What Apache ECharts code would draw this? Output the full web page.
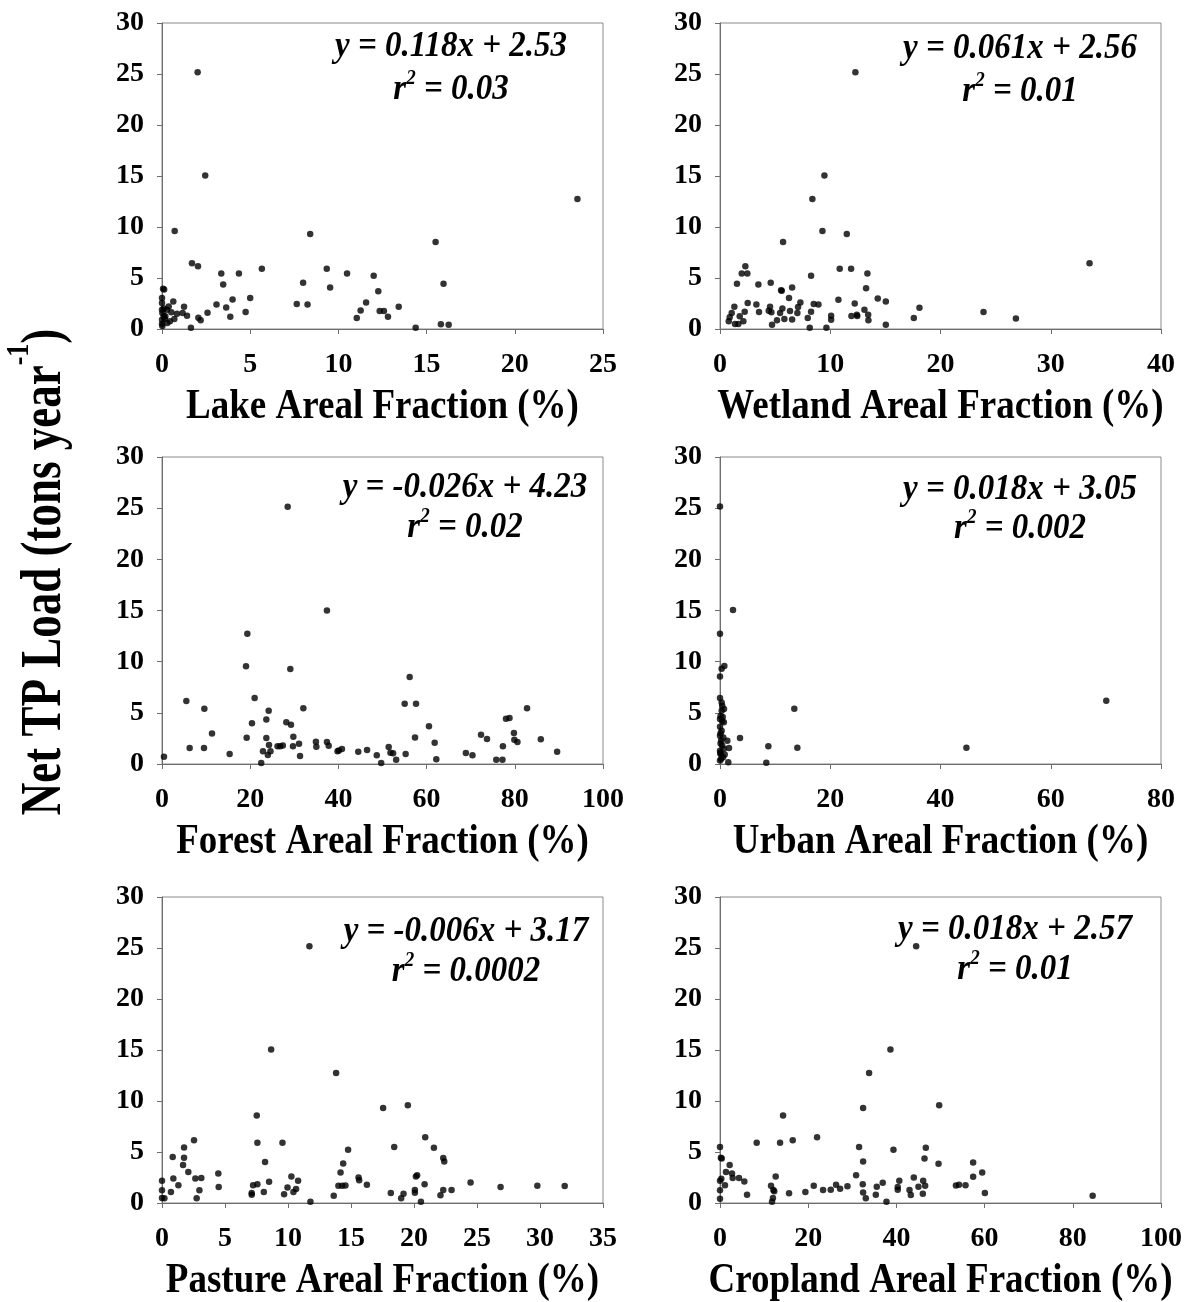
<!DOCTYPE html>
<html>
<head>
<meta charset="utf-8">
<script src="https://cdn.jsdelivr.net/npm/echarts@6/dist/echarts.min.js"></script>
<style>
html,body{margin:0;padding:0;background:#fff;}
#chart{width:1186px;height:1302px;}
</style>
</head>
<body>
<div id="chart"></div>
<script>
// ---------- DATA ----------
const yTickValues = [0, 5, 10, 15, 20, 25, 30];

const lakePoints = [[2.02,25.18],[2.45,15.05],[23.55,12.74],[0.72,9.61],[8.40,9.32],[15.51,8.53],[1.70,6.45],[2.04,6.16],[3.36,5.44],[4.36,5.44],[5.66,5.90],[9.34,5.90],[10.49,5.44],[12.0,5.21],[3.47,4.36],[8.0,4.53],[9.53,4.07],[15.96,4.43],[12.26,3.71],[0.06,3.94],[0.12,3.88],[5.0,3.03],[4.0,2.90],[3.09,2.41],[3.64,2.12],[3.87,1.21],[4.74,1.66],[2.58,1.60],[2.06,1.11],[2.19,0.85],[1.64,0.13],[7.64,2.44],[8.25,2.41],[11.57,2.61],[11.26,1.82],[11.04,1.07],[12.34,1.76],[12.58,1.76],[12.81,1.21],[13.42,2.18],[14.38,0.13],[15.81,0.46],[16.25,0.42],[0,3.03],[0,2.54],[0,1.89],[0.02,1.56],[0.1,1.24],[0,0.9],[0,0.5],[0.02,0.3],[0.38,2.21],[0.28,1.89],[0.64,2.70],[0.53,1.63],[0.45,0.75],[0.70,0.98],[0.85,1.50],[1.25,2.18],[1.17,1.56],[1.42,1.30],[0.19,1.24],[0.1,2.0],[0.15,1.0],[0.3,0.6]];

const wetlandPoints = [[12.28,25.18],[9.47,15.05],[8.38,12.74],[9.29,9.61],[11.50,9.32],[5.72,8.53],[33.52,6.45],[2.30,6.16],[1.97,5.44],[2.48,5.44],[10.86,5.90],[11.89,5.90],[13.37,5.44],[8.26,5.21],[1.54,4.43],[3.48,4.36],[4.60,4.53],[6.54,4.07],[5.54,3.81],[5.60,3.75],[13.25,4.0],[6.26,3.03],[10.74,2.87],[14.31,3.0],[2.51,2.54],[3.30,2.41],[7.29,2.61],[8.50,2.44],[8.93,2.41],[12.22,2.51],[15.04,2.70],[1.30,2.18],[4.54,2.18],[7.08,2.15],[18.09,2.08],[1.06,1.56],[2.24,1.69],[3.54,1.66],[4.42,1.79],[4.66,1.63],[5.66,2.02],[5.45,1.56],[6.35,1.76],[7.02,1.56],[8.26,1.69],[13.10,1.89],[13.44,1.40],[23.90,1.66],[1.79,1.24],[0.88,1.14],[2.12,0.75],[0.79,0.75],[1.36,0.49],[1.66,0.49],[5.17,0.85],[5.84,0.98],[6.54,0.94],[7.96,1.07],[8.14,0.13],[9.65,0.13],[10.08,1.30],[10.08,0.91],[11.92,1.27],[12.41,1.40],[12.45,1.27],[13.46,0.85],[15.04,0.42],[17.58,1.07],[26.84,1.04],[4.72,0.42]];

const forestPoints = [[28.5,25.13],[37.4,15.0],[19.35,12.73],[19.05,9.54],[29.1,9.28],[56.16,8.50],[5.52,6.15],[21.0,6.45],[9.60,5.40],[24.19,5.21],[32.05,5.44],[55.03,5.89],[57.6,5.89],[82.77,5.44],[23.66,4.36],[20.4,3.97],[28.19,4.07],[29.25,3.84],[60.54,3.68],[78.0,4.43],[78.8,4.49],[11.34,2.99],[19.2,2.57],[23.66,2.54],[29.78,2.67],[57.37,2.60],[72.34,2.86],[79.8,3.03],[6.27,1.56],[9.52,1.56],[15.34,0.98],[0.45,0.72],[24.26,1.86],[26.2,1.73],[26.8,1.73],[27.4,1.82],[29.7,1.73],[31.07,1.99],[34.9,2.18],[35.0,1.69],[37.4,2.15],[37.8,1.79],[22.9,1.24],[24.6,1.24],[24.0,0.88],[22.5,0.10],[31.3,0.78],[39.8,1.24],[40.1,1.33],[40.8,1.46],[44.5,1.20],[46.5,1.37],[48.7,0.85],[49.7,0.10],[51.4,1.66],[51.8,1.11],[52.4,1.04],[53.1,0.42],[55.25,0.98],[61.83,2.08],[62.2,0.46],[68.9,1.07],[70.4,0.85],[73.7,2.44],[75.8,0.42],[77.2,0.42],[77.3,1.73],[79.9,2.38],[80.6,2.15],[85.9,2.41],[89.6,1.20]];

const urbanPoints = [[0,25.16],[2.36,15.04],[0,12.73],[0.79,9.57],[0.3,9.31],[0,8.56],[70.07,6.19],[0,6.45],[0.3,6.0],[0.4,5.7],[0.73,5.37],[0.3,5.2],[13.48,5.40],[0,4.4],[0.4,4.2],[0.7,4.07],[0,3.65],[0.3,3.26],[0,2.77],[0.6,2.6],[1.33,2.28],[3.63,2.54],[0.1,2.0],[0.4,1.8],[1.63,1.56],[0.7,1.5],[8.77,1.73],[14.03,1.60],[44.7,1.60],[0.1,0.98],[0.55,0.65],[0,0.33],[1.5,0.16],[8.4,0.13],[0.85,0.94],[0,1.3],[0.2,2.3],[0.1,3.0],[0.05,1.1],[0.2,0.5],[0.1,4.7],[0.5,4.6]];

const pasturePoints = [[11.70,25.16],[8.66,15.06],[13.82,12.74],[19.51,9.58],[17.55,9.32],[7.52,8.57],[20.89,6.45],[2.54,6.16],[1.75,5.44],[7.57,5.90],[9.56,5.90],[18.43,5.48],[21.58,5.41],[14.77,5.22],[0.85,4.50],[1.75,4.43],[22.32,4.40],[22.40,4.07],[8.18,4.01],[14.38,3.88],[1.67,3.72],[2.09,3.03],[14.17,3.0],[4.47,2.90],[0.90,2.41],[2.65,2.41],[3.12,2.44],[10.27,2.61],[15.6,2.51],[15.65,2.22],[20.15,2.61],[20.25,2.71],[24.49,2.02],[0,2.18],[1.30,1.73],[8.5,2.09],[10.80,2.18],[4.50,1.56],[7.23,1.73],[7.57,1.83],[9.96,1.53],[10.64,1.37],[14.0,1.69],[14.3,1.70],[14.56,1.72],[16.26,1.79],[20.84,1.83],[26.87,1.56],[29.79,1.69],[31.96,1.66],[0,1.24],[0.71,1.08],[2.97,1.24],[7.12,0.98],[7.12,0.82],[8.08,1.08],[9.69,0.85],[10.43,1.08],[18.16,0.98],[19.17,0.91],[20.07,1.0],[20.07,1.27],[22.32,1.27],[22.98,1.27],[22.1,0.75],[0,0.49],[0.19,0.46],[2.75,0.46],[11.78,0.13],[13.63,0.72],[18.98,0.46],[20.55,0.13]];

const croplandPoints = [[44.48,25.16],[38.65,15.06],[33.81,12.74],[49.70,9.58],[32.45,9.32],[14.30,8.57],[22.01,6.45],[8.32,5.90],[13.62,5.90],[16.49,6.16],[0,5.48],[31.54,5.48],[46.67,5.41],[39.33,5.22],[0.2,4.43],[0.4,4.37],[46.37,4.37],[32.45,4.07],[57.4,3.98],[49.55,3.85],[2.19,3.72],[1.36,3.03],[2.72,2.90],[2.87,2.44],[4.31,2.44],[5.52,2.12],[59.46,3.0],[30.86,2.71],[43.95,2.51],[57.4,2.57],[0.3,2.38],[0,2.18],[12.63,2.61],[36.9,1.99],[40.66,2.18],[46.07,2.18],[1.13,1.73],[11.57,1.69],[21.26,1.69],[26.32,1.79],[27.23,1.40],[28.9,1.63],[23.37,1.27],[25.11,1.30],[32.37,1.83],[35.55,1.60],[40.3,1.56],[40.3,1.30],[45.0,1.60],[46.52,1.69],[53.5,1.72],[54.2,1.80],[55.67,1.73],[12.1,1.27],[12.3,1.14],[0,1.24],[19.36,1.08],[15.66,0.95],[6.13,0.81],[32.45,1.04],[35.33,0.81],[42.97,1.27],[43.27,0.78],[45.99,0.91],[60.06,0.98],[84.5,0.72],[0,0.42],[12.0,0.49],[11.8,0.13],[33.06,0.46],[37.75,0.13]];

const panelNames = ['Lake Areal Fraction (%)','Wetland Areal Fraction (%)','Forest Areal Fraction (%)','Urban Areal Fraction (%)','Pasture Areal Fraction (%)','Cropland Areal Fraction (%)'];
const panelXMax = [25, 40, 100, 80, 35, 100];
const panelXInterval = [5, 10, 20, 20, 5, 20];
const eqLine1 = ['y = 0.118x + 2.53','y = 0.061x + 2.56','y = -0.026x + 4.23','y = 0.018x + 3.05','y = -0.006x + 3.17','y = 0.018x + 2.57'];
const eqR2 = ['0.03','0.01','0.02','0.002','0.0002','0.01'];
const yTitle = 'Net TP Load (tons year';

// ---------- LAYOUT ----------
const gridBoxes = [
  {left:162, top:23, width:441, height:306},
  {left:720, top:23, width:441, height:306},
  {left:162, top:457, width:441, height:307},
  {left:720, top:457, width:441, height:307},
  {left:162, top:897, width:441, height:306},
  {left:720, top:897, width:441, height:306}
];
const eqPos = [
  {x:451, y1:47, y2:90},
  {x:1020, y1:49, y2:92},
  {x:465, y1:488, y2:528},
  {x:1020, y1:490, y2:529},
  {x:466, y1:932, y2:972},
  {x:1015, y1:930, y2:970}
];
const allPoints = [lakePoints, wetlandPoints, forestPoints, urbanPoints, pasturePoints, croplandPoints];

const FONT = "'Liberation Serif','Times New Roman',serif";
const axisColor = '#6e6e6e';

const chart = echarts.init(document.getElementById('chart'), null, {renderer:'canvas'});

const grids = [], xAxes = [], yAxes = [], series = [], graphics = [];
for (let i = 0; i < 6; i++) {
  const g = gridBoxes[i];
  grids.push(Object.assign({show:true, borderColor:'#8a8a8a', borderWidth:1, backgroundColor:'#fff'}, g));
  xAxes.push({
    type:'value', gridIndex:i, min:0, max:panelXMax[i], interval:panelXInterval[i],
    axisLine:{show:true, onZero:false, lineStyle:{color:axisColor, width:1}},
    axisTick:{show:true, inside:false, length:5, lineStyle:{color:axisColor}},
    axisLabel:{show:true, margin:36, verticalAlign:'middle', fontFamily:FONT, fontWeight:'bold', fontSize:28, color:'#000', showMinLabel:true, showMaxLabel:true},
    splitLine:{show:false}
  });
  yAxes.push({
    type:'value', gridIndex:i, min:0, max:30, interval:5,
    axisLine:{show:true, onZero:false, lineStyle:{color:axisColor, width:1}},
    axisTick:{show:true, inside:false, length:5, lineStyle:{color:axisColor}},
    axisLabel:{show:true, margin:18, fontFamily:FONT, fontWeight:'bold', fontSize:28, color:'#000',
      formatter: v => yTickValues.indexOf(v) >= 0 ? String(v) : ''},
    splitLine:{show:false}
  });
  series.push({
    type:'scatter', xAxisIndex:i, yAxisIndex:i, data:allPoints[i],
    symbol:'circle', symbolSize:6.5, itemStyle:{color:'#000'}, silent:true
  });
  // x-axis title (drawn as text, slightly stretched vertically like the reference)
  graphics.push({
    type:'text', x:g.left + g.width/2, y:g.top + g.height + 78, scaleY:1.12, silent:true,
    style:{text:panelNames[i], fontFamily:FONT, fontWeight:'bold', fontSize:37, fill:'#000', align:'center', verticalAlign:'middle'}
  });
  graphics.push({
    type:'text', x:eqPos[i].x, y:eqPos[i].y1, scaleY:1.08, silent:true,
    style:{text:eqLine1[i], fontFamily:FONT, fontWeight:'bold', fontStyle:'italic', fontSize:33, fill:'#000', align:'center', verticalAlign:'middle'}
  });
  graphics.push({
    type:'text', x:eqPos[i].x, y:eqPos[i].y2, scaleY:1.08, silent:true,
    style:{
      text:'{m|r}{s|2}{m| = ' + eqR2[i] + '}',
      align:'center', verticalAlign:'middle',
      rich:{
        m:{fontFamily:FONT, fontWeight:'bold', fontStyle:'italic', fontSize:33, fill:'#000', lineHeight:40},
        s:{fontFamily:FONT, fontWeight:'bold', fontStyle:'italic', fontSize:19, fill:'#000', lineHeight:22, verticalAlign:'top'}
      }
    }
  });
}

graphics.push({
  type:'text', x:45, y:572, rotation:Math.PI/2, scaleY:1.25, silent:true,
  style:{
    text:'{m|' + yTitle + '}{s|-1}{m|)}',
    align:'center', verticalAlign:'middle',
    rich:{
      m:{fontFamily:FONT, fontWeight:'bold', fontSize:45, fill:'#000', lineHeight:66},
      s:{fontFamily:FONT, fontWeight:'bold', fontSize:26, fill:'#000', lineHeight:22, verticalAlign:'top'}
    }
  }
});

chart.setOption({
  animation:false,
  backgroundColor:'#fff',
  grid:grids, xAxis:xAxes, yAxis:yAxes, series:series,
  graphic:graphics
});
</script>
</body>
</html>
